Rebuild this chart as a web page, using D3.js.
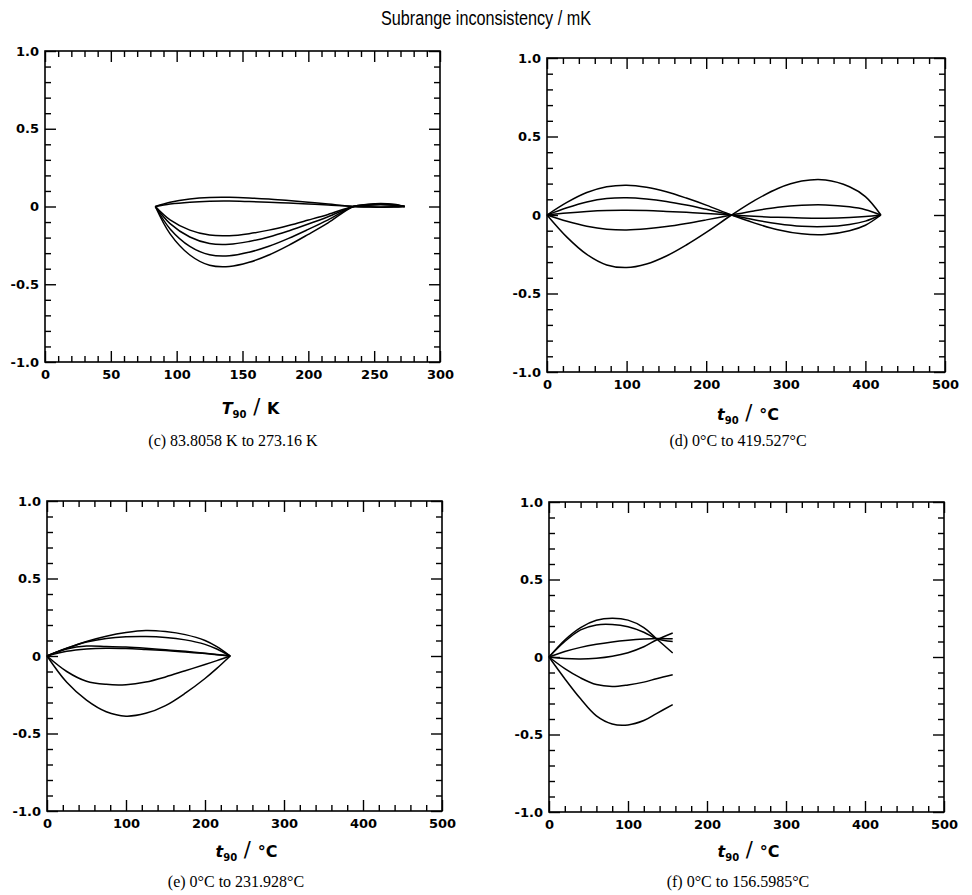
<!DOCTYPE html>
<html><head><meta charset="utf-8">
<script src="https://cdn.jsdelivr.net/npm/d3@7"></script>
<style>body{margin:0;background:#fff}svg{display:block}</style>
</head><body>
<svg id="chart" width="972" height="895"></svg>
<script>
// ---------- DATA ----------
const yTickValues = [-1, -0.5, 0, 0.5, 1];
const yTickLabels = ["-1.0", "-0.5", "0", "0.5", "1.0"];

// Panel (c): T90 / K
const cTicks = [0, 50, 100, 150, 200, 250, 300];
const cX = [83.8058, 95, 110, 125, 140, 155, 170, 185, 200, 215, 234.3156, 245, 255, 265, 273.16];
const cCurves = [
  [0, 0.027, 0.048, 0.058, 0.059, 0.055, 0.048, 0.038, 0.028, 0.016, 0, -0.003, -0.005, -0.004, 0],
  [0, 0.016, 0.028, 0.034, 0.035, 0.032, 0.028, 0.022, 0.016, 0.009, 0, -0.002, -0.003, -0.002, 0],
  [0, -0.086, -0.152, -0.184, -0.188, -0.175, -0.152, -0.122, -0.087, -0.051, 0, 0.008, 0.011, 0.008, 0],
  [0, -0.11, -0.196, -0.238, -0.243, -0.225, -0.196, -0.157, -0.113, -0.066, 0, 0.01, 0.014, 0.01, 0],
  [0, -0.144, -0.256, -0.31, -0.317, -0.294, -0.256, -0.205, -0.147, -0.086, 0, 0.012, 0.017, 0.012, 0],
  [0, -0.176, -0.312, -0.378, -0.386, -0.359, -0.312, -0.25, -0.179, -0.105, 0, 0.014, 0.02, 0.014, 0]
];

// Panel (d): t90 / °C
const dTicks = [0, 100, 200, 300, 400, 500];
const dX = [0, 25, 50, 75, 100, 125, 150, 175, 200, 231.928, 260, 290, 320, 350, 380, 400, 419.527];
const dCurves = [
  [0, 0.08, 0.143, 0.18, 0.19, 0.177, 0.148, 0.108, 0.063, 0, -0.05, -0.094, -0.12, -0.124, -0.1, -0.065, 0],
  [0, 0.046, 0.083, 0.105, 0.11, 0.102, 0.086, 0.063, 0.036, 0, -0.03, -0.056, -0.072, -0.074, -0.06, -0.039, 0],
  [0, 0.013, 0.023, 0.029, 0.03, 0.028, 0.023, 0.017, 0.01, 0, -0.008, -0.015, -0.019, -0.02, -0.016, -0.01, 0],
  [0, -0.04, -0.071, -0.09, -0.095, -0.088, -0.074, -0.054, -0.031, 0, 0.026, 0.049, 0.062, 0.064, 0.052, 0.034, 0],
  [0, -0.141, -0.251, -0.318, -0.335, -0.312, -0.261, -0.191, -0.111, 0, 0.09, 0.169, 0.216, 0.223, 0.18, 0.117, 0]
];

// Panel (e): t90 / °C
const eTicks = [0, 100, 200, 300, 400, 500];
const eX = [0, 25, 50, 75, 100, 125, 150, 175, 200, 215, 231.928];
const eCurves = [
  [0, 0.05, 0.094, 0.128, 0.152, 0.165, 0.158, 0.138, 0.1, 0.06, 0],
  [0, 0.05, 0.09, 0.113, 0.124, 0.126, 0.12, 0.104, 0.075, 0.045, 0],
  [0, 0.045, 0.064, 0.062, 0.058, 0.05, 0.04, 0.03, 0.018, 0.01, 0],
  [0, 0.03, 0.045, 0.05, 0.048, 0.042, 0.035, 0.026, 0.016, 0.008, 0],
  [0, -0.1, -0.163, -0.183, -0.185, -0.168, -0.135, -0.095, -0.055, -0.03, 0],
  [0, -0.17, -0.285, -0.36, -0.388, -0.37, -0.32, -0.24, -0.145, -0.08, 0]
];

// Panel (f): t90 / °C
const fTicks = [0, 100, 200, 300, 400, 500];
const fX = [0, 20, 40, 60, 80, 100, 120, 136, 156.5985];
const fCurves = [
  [0, 0.11, 0.19, 0.237, 0.25, 0.238, 0.19, 0.118, 0.026],
  [0, 0.1, 0.175, 0.207, 0.21, 0.195, 0.16, 0.118, 0.1],
  [0, 0.035, 0.062, 0.082, 0.097, 0.108, 0.116, 0.12, 0.118],
  [0, -0.01, -0.013, -0.008, 0.005, 0.028, 0.066, 0.11, 0.155],
  [0, -0.075, -0.135, -0.178, -0.19, -0.18, -0.162, -0.14, -0.114],
  [0, -0.14, -0.27, -0.38, -0.432, -0.438, -0.41, -0.365, -0.307]
];

const titleText = "Subrange inconsistency / mK";

// ---------- DRAW ----------
const svg = d3.select("#chart");
const tickFont = "DejaVu Sans, sans-serif";

svg.append("text")
  .attr("x", 486).attr("y", 25)
  .attr("text-anchor", "middle")
  .attr("font-family", "Liberation Sans, Arial, sans-serif")
  .attr("font-size", 20)
  .attr("textLength", 210)
  .attr("lengthAdjust", "spacingAndGlyphs")
  .text(titleText);

function drawPanel(cfg, xs, curves) {
  const g = svg.append("g");
  const x = d3.scaleLinear().domain(cfg.xDomain).range([cfg.left, cfg.right]);
  const y = d3.scaleLinear().domain([-1, 1]).range([cfg.bottom, cfg.top]);
  const W = cfg.right - cfg.left, H = cfg.bottom - cfg.top;

  const xMinor = d3.range(cfg.xDomain[0], cfg.xDomain[1] + 1e-9, cfg.xMinorStep)
    .filter(v => !cfg.xTicks.some(t => Math.abs(t - v) < 1e-9));
  const yMinor = d3.range(-10, 11).map(v => v / 10)
    .filter(v => !yTickValues.some(t => Math.abs(t - v) < 1e-9));

  const majorLen = 11, minorLen = 6;

  g.append("g").attr("transform", `translate(0,${cfg.bottom})`)
    .call(d3.axisBottom(x).tickValues(xMinor).tickSize(-minorLen).tickFormat(""));
  g.append("g").attr("transform", `translate(0,${cfg.bottom})`)
    .call(d3.axisBottom(x).tickValues(cfg.xTicks).tickSize(-majorLen).tickPadding(8).tickFormat(d3.format("d")));
  g.append("g").attr("transform", `translate(0,${cfg.top})`)
    .call(d3.axisTop(x).tickValues(xMinor).tickSize(-minorLen).tickFormat(""));
  g.append("g").attr("transform", `translate(0,${cfg.top})`)
    .call(d3.axisTop(x).tickValues(cfg.xTicks).tickSize(-majorLen).tickFormat(""));
  g.append("g").attr("transform", `translate(${cfg.left},0)`)
    .call(d3.axisLeft(y).tickValues(yMinor).tickSize(-minorLen).tickFormat(""));
  g.append("g").attr("transform", `translate(${cfg.left},0)`)
    .call(d3.axisLeft(y).tickValues(yTickValues).tickSize(-majorLen).tickPadding(6)
      .tickFormat((d, i) => yTickLabels[i]));
  g.append("g").attr("transform", `translate(${cfg.right},0)`)
    .call(d3.axisRight(y).tickValues(yMinor).tickSize(-minorLen).tickFormat(""));
  g.append("g").attr("transform", `translate(${cfg.right},0)`)
    .call(d3.axisRight(y).tickValues(yTickValues).tickSize(-majorLen).tickFormat(""));

  g.selectAll(".domain").remove();
  g.selectAll(".tick line").attr("stroke", "#000").attr("stroke-width", 1.4);
  g.selectAll(".tick text").attr("font-family", tickFont).attr("font-weight", "bold")
    .attr("font-size", 13).attr("fill", "#000");

  g.append("rect").attr("x", cfg.left).attr("y", cfg.top).attr("width", W).attr("height", H)
    .attr("fill", "none").attr("stroke", "#000").attr("stroke-width", 1.6);

  const line = d3.line().x((d, i) => x(xs[i])).y(d => y(d)).curve(d3.curveCatmullRom.alpha(0.5));
  g.selectAll("path.curve").data(curves).join("path").attr("class", "curve")
    .attr("d", line).attr("fill", "none").attr("stroke", "#000").attr("stroke-width", 1.5);

  const cx = (cfg.left + cfg.right) / 2 + cfg.titleDx;
  const t = g.append("text").attr("x", cx).attr("y", cfg.titleY).attr("text-anchor", "middle")
    .attr("font-family", tickFont).attr("font-weight", "bold").attr("font-size", 16);
  t.append("tspan").attr("font-style", "italic").text(cfg.varName);
  t.append("tspan").attr("font-size", 10).attr("dy", 4).text("90");
  t.append("tspan").attr("dy", -4).attr("font-size", 21).attr("font-weight", "normal").text(" / ");
  t.append("tspan").text(cfg.unit);

  g.append("text").attr("x", cfg.capX).attr("y", cfg.capY).attr("text-anchor", "middle")
    .attr("font-family", "Liberation Serif, Times New Roman, serif").attr("font-size", 16)
    .text(cfg.caption);
}

drawPanel({left: 45, right: 440, top: 51, bottom: 362, xDomain: [0, 300], xTicks: cTicks, xMinorStep: 10,
  titleY: 414, titleDx: 8, varName: "T", unit: "K", caption: "(c) 83.8058 K to 273.16 K", capX: 233, capY: 446},
  cX, cCurves);
drawPanel({left: 547, right: 945, top: 58, bottom: 372, xDomain: [0, 500], xTicks: dTicks, xMinorStep: 20,
  titleY: 420, titleDx: 2, varName: "t", unit: "°C", caption: "(d) 0°C to 419.527°C", capX: 738, capY: 446},
  dX, dCurves);
drawPanel({left: 47, right: 442, top: 501, bottom: 811, xDomain: [0, 500], xTicks: eTicks, xMinorStep: 20,
  titleY: 857, titleDx: 2, varName: "t", unit: "°C", caption: "(e) 0°C to 231.928°C", capX: 236, capY: 887},
  eX, eCurves);
drawPanel({left: 549, right: 944, top: 502, bottom: 812, xDomain: [0, 500], xTicks: fTicks, xMinorStep: 20,
  titleY: 857, titleDx: 2, varName: "t", unit: "°C", caption: "(f) 0°C to 156.5985°C", capX: 738, capY: 887},
  fX, fCurves);
</script>
</body></html>
